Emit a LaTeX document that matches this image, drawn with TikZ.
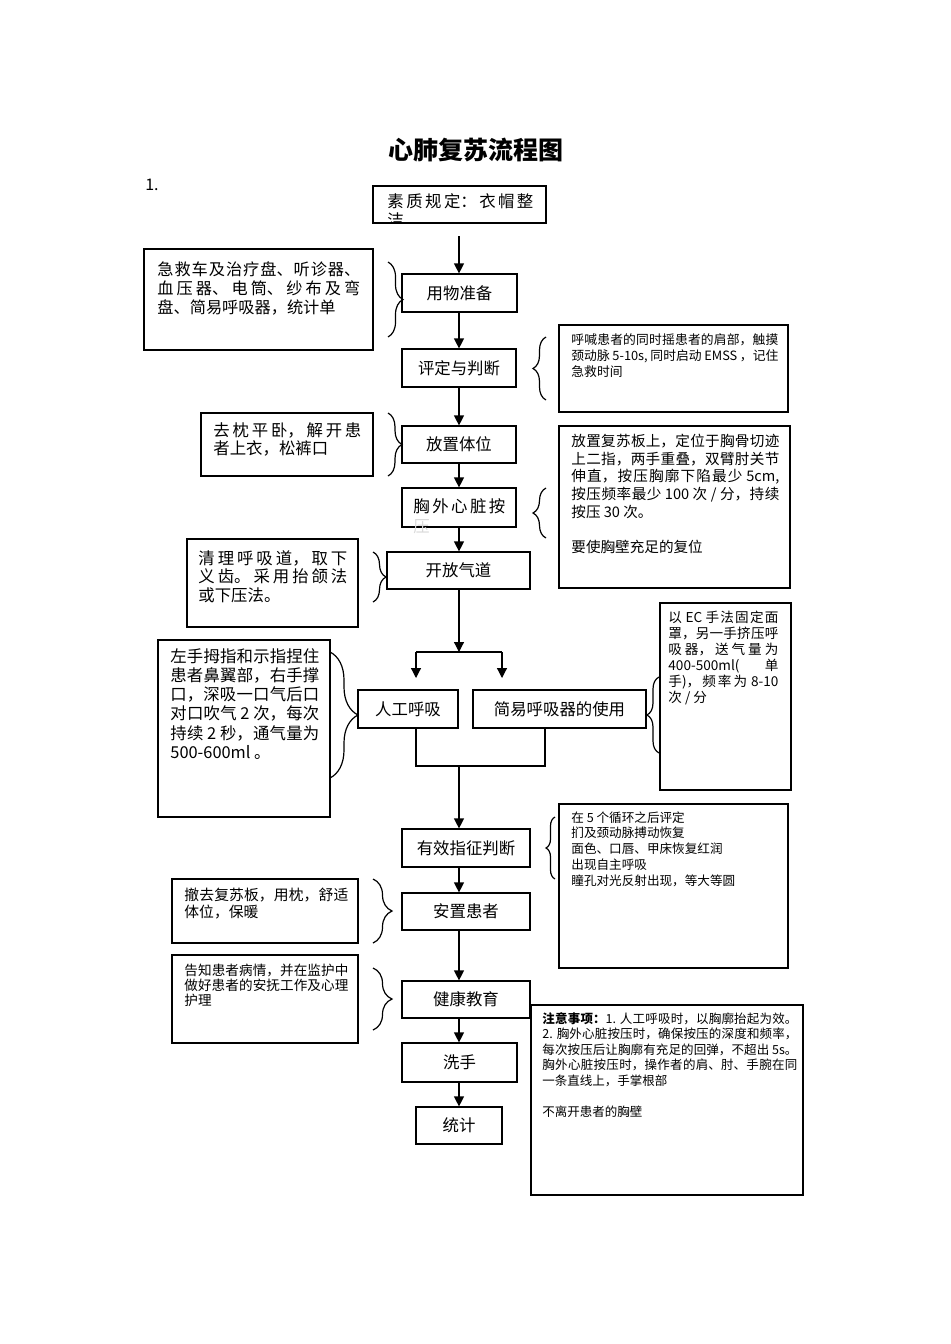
\documentclass[tikz,border=0pt]{standalone}
\usepackage{fontspec}
\setmainfont{Noto Sans CJK SC}
\usetikzlibrary{arrows.meta,decorations.pathreplacing}
\XeTeXlinebreaklocale "zh"
\XeTeXlinebreakskip=0pt plus 2pt

\tikzset{
  flow/.style={draw, line width=0.6pt, inner sep=0pt, font=\fontsize{8.2}{10}\selectfont},
  note/.style={draw, line width=0.6pt, inner sep=0pt},
  txt/.style={anchor=north west, inner sep=0pt, align=justify},
  arr/.style={-{Triangle[width=5pt,length=5pt]}, line width=0.6pt},
  brc/.style={decorate, decoration={brace, amplitude=#1}, line width=0.6pt},
}

\begin{document}
\begin{tikzpicture}[x=0.5pt, y=-0.5pt]
  \useasboundingbox (0,0) rectangle (950,1344);
  \coordinate (spine) at (459,0);

  \node[font=\fontsize{12.5}{15}\selectfont\bfseries] (title) at (476,150) {心肺复苏流程图};
  \node[font=\fontsize{8}{10}\selectfont] (num) at (152,185) {1.};

  \node[flow, minimum width=86.5pt, minimum height=18.5pt] (qual) at (459.5,204.5) {};
  \begin{scope}
    \clip (373,186) rectangle (546,223);
    \node[txt, text width=73pt, font=\fontsize{8.2}{9.5}\selectfont] (qualtext) at (387,193) {素质规定：衣帽整\linebreak 洁};
  \end{scope}
  \node[flow, minimum width=57.5pt, minimum height=19pt] (prep) at (459.5,293) {用物准备};
  \node[flow, minimum width=57pt, minimum height=19pt] (eval) at (459,368) {评定与判断};
  \node[flow, minimum width=57pt, minimum height=18.5pt] (pos) at (459,444.5) {放置体位};
  \node[flow, minimum width=57pt, minimum height=19.5pt] (cpr) at (459,507.5) {};
  \node[txt, text width=46pt, font=\fontsize{8.2}{10}\selectfont] (cprtext) at (413,498) {胸外心脏按\linebreak{\color{gray!30}压}};
  \node[flow, minimum width=71.5pt, minimum height=18.5pt] (air) at (458.5,570.5) {开放气道};
  \node[flow, minimum width=50pt, minimum height=19pt] (breath) at (408,709) {人工呼吸};
  \node[flow, minimum width=86.5pt, minimum height=19pt] (bag) at (559.5,709) {简易呼吸器的使用};
  \node[flow, minimum width=64pt, minimum height=19pt] (sign) at (466,848) {有效指征判断};
  \node[flow, minimum width=64pt, minimum height=18.5pt] (settle) at (466,911.5) {安置患者};
  \node[flow, minimum width=64pt, minimum height=18.5pt] (edu) at (466,999.5) {健康教育};
  \node[flow, minimum width=57.5pt, minimum height=19.5pt] (wash) at (459.5,1062.5) {洗手};
  \node[flow, minimum width=43pt, minimum height=18.5pt] (stat) at (459,1125.5) {统计};

  \node[note, minimum width=114.5pt, minimum height=50.5pt] (supply) at (258.5,299.5) {};
  \node[txt, text width=101.5pt, font=\fontsize{8.1}{9.5}\selectfont] (supplytext) at (157,261) {急救车及治疗盘、听诊器、\linebreak 血压器、电筒、纱布及弯\linebreak 盘、简易呼吸器，统计单};
  \node[note, minimum width=114.5pt, minimum height=43.5pt] (call) at (673.5,368.5) {};
  \node[txt, text width=103.5pt, font=\fontsize{6.4}{8}\selectfont] (calltext) at (571,333) {呼喊患者的同时摇患者的肩部，触摸\linebreak 颈动脉 5-10s, 同时启动 EMSS ，记住\linebreak 急救时间};
  \node[note, minimum width=86pt, minimum height=31.5pt] (flat) at (287,444.5) {};
  \node[txt, text width=74pt, font=\fontsize{8.2}{9}\selectfont] (flattext) at (213,422) {去枕平卧，解开患\linebreak 者上衣，松裤口};
  \node[note, minimum width=115.5pt, minimum height=81pt] (board) at (674.5,507) {};
  \node[txt, text width=104pt, font=\fontsize{7.3}{8.8}\selectfont] (boardtext) at (571,434) {放置复苏板上，定位于胸骨切迹\linebreak 上二指，两手重叠，双臂肘关节\linebreak 伸直，按压胸廓下陷最少 5cm,\linebreak 按压频率最少 100 次 / 分，持续\linebreak 按压 30 次。\\[8.8pt] 要使胸壁充足的复位};
  \node[note, minimum width=85.5pt, minimum height=44pt] (clear) at (272.5,583) {};
  \node[txt, text width=74.5pt, font=\fontsize{8.2}{9.25}\selectfont] (cleartext) at (198,550) {清理呼吸道，取下\linebreak 义齿。采用抬颌法\linebreak 或下压法。};
  \node[note, minimum width=86pt, minimum height=88.5pt] (mouth) at (244,728.5) {};
  \node[txt, text width=74.5pt, font=\fontsize{8.2}{9.6}\selectfont] (mouthtext) at (170,648) {左手拇指和示指捏住\linebreak 患者鼻翼部，右手撑\linebreak 口，深吸一口气后口\linebreak 对口吹气 2 次，每次\linebreak 持续 2 秒，通气量为\linebreak 500-600ml 。};
  \node[note, minimum width=65.5pt, minimum height=93.5pt] (mask) at (725.5,696.5) {};
  \node[txt, text width=55pt, font=\fontsize{6.8}{8}\selectfont] (masktext) at (668,611) {以 EC 手法固定面\linebreak 罩，另一手挤压呼\linebreak 吸器，送气量为\linebreak 400-500ml( 单\linebreak 手)，频率为 8-10\linebreak 次 / 分};
  \node[note, minimum width=114.5pt, minimum height=82pt] (check) at (673.5,886) {};
  \node[txt, align=left, font=\fontsize{6.3}{7.9}\selectfont] (checktext) at (571,811) {在 5 个循环之后评定\\ 扪及颈动脉搏动恢复\\ 面色、口唇、甲床恢复红润\\ 出现自主呼吸\\ 瞳孔对光反射出现，等大等圆};
  \node[note, minimum width=93pt, minimum height=32pt] (remove) at (265,911) {};
  \node[txt, text width=82pt, font=\fontsize{7.4}{8.5}\selectfont] (removetext) at (184,888) {撤去复苏板，用枕，舒适\linebreak 体位，保暖};
  \node[note, minimum width=93pt, minimum height=44pt] (inform) at (265,999) {};
  \node[txt, text width=82pt, font=\fontsize{6.8}{7.5}\selectfont] (informtext) at (184,964) {告知患者病情，并在监护中\linebreak 做好患者的安抚工作及心理\linebreak 护理};
  \node[note, minimum width=136pt, minimum height=95pt] (caution) at (667,1100) {};
  \node[txt, text width=127.5pt, font=\fontsize{6.25}{7.75}\selectfont] (cautiontext) at (542,1012) {\textbf{注意事项：}1. 人工呼吸时，以胸廓抬起为效。\linebreak 2. 胸外心脏按压时，确保按压的深度和频率，\linebreak 每次按压后让胸廓有充足的回弹，不超出 5s。\linebreak 胸外心脏按压时，操作者的肩、肘、手腕在同\linebreak 一条直线上，手掌根部\\[7.75pt] 不离开患者的胸壁};

  \coordinate (qualout) at (459,236);
  \coordinate (split) at (459,652);
  \coordinate (splitL) at (416,652);
  \coordinate (splitR) at (502,652);
  \coordinate (inL) at (416,678);
  \coordinate (inR) at (502,678);
  \coordinate (joinL) at (416,766);
  \coordinate (joinR) at (545,766);
  \coordinate (join) at (459,766);

  \draw[arr] (qualout) -- (prep.north -| spine);
  \draw[arr] (prep.south -| spine) -- (eval.north -| spine);
  \draw[arr] (eval.south -| spine) -- (pos.north -| spine);
  \draw[arr] (pos.south -| spine) -- (cpr.north -| spine);
  \draw[arr] (cpr.south -| spine) -- (air.north -| spine);
  \draw[arr] (air.south -| spine) -- (split);
  \draw[line width=0.6pt] (splitL) -- (splitR);
  \draw[arr] (splitL) -- (inL);
  \draw[arr] (splitR) -- (inR);
  \draw[line width=0.6pt] (breath.south -| joinL) -- (joinL) -- (joinR) -- (bag.south -| joinR);
  \draw[arr] (join) -- (sign.north -| spine);
  \draw[arr] (sign.south -| spine) -- (settle.north -| spine);
  \draw[arr] (settle.south -| spine) -- (edu.north -| spine);
  \draw[arr] (edu.south -| spine) -- (wash.north -| spine);
  \draw[arr] (wash.south -| spine) -- (stat.north -| spine);

  \draw[brc=7.5pt] (388,262) -- (388,337);
  \draw[brc=6.5pt] (546,400) -- (546,337);
  \draw[brc=7pt] (388,413) -- (388,476);
  \draw[brc=6.5pt] (546,538) -- (546,488);
  \draw[brc=6.5pt] (373,552) -- (373,602);
  \draw[brc=14pt] (330,652) -- (330,778);
  \draw[brc=6pt] (659,753) -- (659,677);
  \draw[brc=4.5pt] (555,879) -- (555,817);
  \draw[brc=9.5pt] (373,879) -- (373,943);
  \draw[brc=9.5pt] (373,968) -- (373,1030);
\end{tikzpicture}
\end{document}
